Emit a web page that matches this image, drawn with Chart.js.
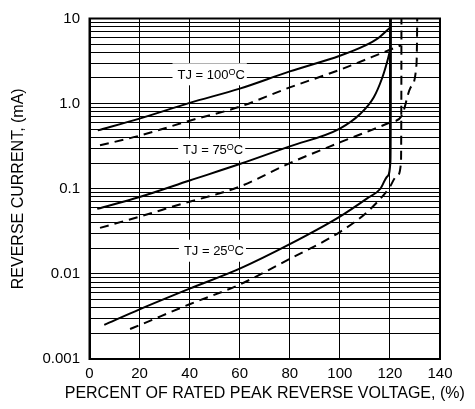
<!DOCTYPE html>
<html>
<head>
<meta charset="utf-8">
<script src="https://cdn.jsdelivr.net/npm/chart.js@4.4.1/dist/chart.umd.min.js"></script>
<style>
  html, body { margin: 0; padding: 0; background: #fff; }
  #wrap { width: 475px; height: 409px; position: relative; }
</style>
</head>
<body>
<div id="wrap"><canvas id="c"></canvas></div>
<script>
// ---- data ----
const xTickValues = [0, 20, 40, 60, 80, 100, 120, 140];
const yTickValues = [0.001, 0.01, 0.1, 1, 10];
const yTickLabels = ['0.001', '0.01', '0.1', '1.0', '10'];
const xTitle = 'PERCENT OF RATED PEAK REVERSE VOLTAGE, (%)';
const yTitle = 'REVERSE CURRENT, (mA)';

const s100X = [3.3, 20, 40, 60, 80, 100, 110, 115, 120.2];
const s100Y = [0.485, 0.667, 1.02, 1.5, 2.39, 3.65, 4.8, 5.8, 7.9];

const d100X = [4.2, 20, 40, 60, 80, 100, 120, 124.5];
const d100Y = [0.324, 0.42, 0.63, 0.92, 1.55, 2.5, 4.3, 4.85];

const s75X = [3.1, 20, 40, 60, 80, 100, 108.2, 113.5, 116.9, 118.9, 120.2];
const s75Y = [0.058, 0.08, 0.125, 0.195, 0.315, 0.51, 0.76, 1.18, 2.0, 3.1, 4.4];

const d75X = [4.2, 20, 35, 60, 80, 100, 120, 124.7, 128.2, 130.6, 130.8, 130.9];
const d75Y = [0.0347, 0.047, 0.064, 0.106, 0.2, 0.35, 0.6, 0.72, 1.54, 2.86, 5, 10];

const s25X = [5.9, 20, 40, 60, 80, 100, 110.9, 116.2, 119, 120.2, 120.35, 120.4];
const s25Y = [0.00252, 0.00383, 0.0067, 0.0115, 0.0223, 0.047, 0.077, 0.1, 0.14, 0.21, 1, 10];

const d25X = [16.2, 20, 40, 60, 80, 100, 110.8, 119.5, 122.9, 124.4, 124.55, 124.6];
const d25Y = [0.00225, 0.0025, 0.0044, 0.0075, 0.015, 0.031, 0.053, 0.1, 0.142, 0.2, 1, 10];

const curveLabels = [
  { main: 'TJ = 100', sup: 'O', tail: 'C', x: 48.6, y: 2.21 },
  { main: 'TJ = 75',  sup: 'O', tail: 'C', x: 49.4, y: 0.288 },
  { main: 'TJ = 25',  sup: 'O', tail: 'C', x: 49.7, y: 0.0187 }
];

const FONT = '"Liberation Sans", Arial, Helvetica, sans-serif';

function pts(xs, ys) { return xs.map((x, i) => ({ x: x, y: ys[i] })); }

// grid values: 1..9 per decade
const yGridValues = [];
for (let i = 0; i < yTickValues.length - 1; i++) {
  for (let k = 1; k <= 9; k++) yGridValues.push(+(yTickValues[i] * k).toPrecision(3));
}
yGridValues.push(yTickValues[yTickValues.length - 1]);

function ds(xs, ys, dashed) {
  return {
    data: pts(xs, ys),
    borderColor: '#000',
    borderWidth: 2,
    borderDash: dashed ? [9, 6] : [],
    pointRadius: 0,
    fill: false,
    cubicInterpolationMode: 'monotone'
  };
}

const labelPlugin = {
  id: 'curveLabels',
  beforeDatasetsDraw(chart) {
    const ctx = chart.ctx;
    const xs = chart.scales.x, ys = chart.scales.y;
    ctx.save();
    curveLabels.forEach(l => {
      const cx = xs.getPixelForValue(l.x);
      const cy = ys.getPixelForValue(l.y);
      ctx.font = '13px ' + FONT;
      const w1 = ctx.measureText(l.main).width;
      const w3 = ctx.measureText(l.tail).width;
      ctx.font = '9px ' + FONT;
      const w2 = ctx.measureText(l.sup).width;
      const total = w1 + w2 + w3;
      const left = cx - total / 2;
      ctx.fillStyle = '#fff';
      ctx.fillRect(left - 5, cy - 11, total + 7, 22);
      ctx.fillStyle = '#000';
      ctx.textBaseline = 'alphabetic';
      ctx.textAlign = 'left';
      const base = cy + 4.7;
      ctx.font = '13px ' + FONT;
      ctx.fillText(l.main, left, base);
      ctx.font = '9px ' + FONT;
      ctx.fillText(l.sup, left + w1, base - 4.5);
      ctx.font = '13px ' + FONT;
      ctx.fillText(l.tail, left + w1 + w2, base);
    });
    ctx.restore();
  },
  afterDraw(chart) {
    const a = chart.chartArea;
    const ctx = chart.ctx;
    ctx.save();
    ctx.strokeStyle = '#000';
    ctx.lineWidth = 2;
    ctx.strokeRect(a.left, a.top, a.right - a.left, a.bottom - a.top);
    // axis titles
    ctx.fillStyle = '#000';
    ctx.font = '16px ' + FONT;
    ctx.textAlign = 'center';
    ctx.textBaseline = 'middle';
    ctx.fillText(xTitle, (a.left + a.right) / 2, 394);
    ctx.translate(19, (a.top + a.bottom) / 2);
    ctx.rotate(-Math.PI / 2);
    ctx.fillText(yTitle, 0, 0);
    ctx.restore();
  }
};

new Chart(document.getElementById('c'), {
  type: 'line',
  data: {
    datasets: [
      ds(s100X, s100Y, false),
      ds(d100X, d100Y, true),
      ds(s75X, s75Y, false),
      ds(d75X, d75Y, true),
      ds(s25X, s25Y, false),
      ds(d25X, d25Y, true)
    ]
  },
  options: {
    responsive: true,
    maintainAspectRatio: false,
    animation: false,
    devicePixelRatio: 1,
    layout: { padding: { top: 11, right: 35, left: 0, bottom: 0 } },
    plugins: { legend: { display: false }, tooltip: { enabled: false } },
    scales: {
      x: {
        type: 'linear',
        min: 0, max: 140,
        afterBuildTicks: s => { s.ticks = xTickValues.map(v => ({ value: v })); },
        afterFit: s => { s.height = 50; },
        grid: { color: '#000', lineWidth: 1, drawTicks: false },
        border: { color: '#000', width: 2 },
        ticks: { color: '#000', padding: 6, autoSkip: false, maxRotation: 0,
                 font: { family: FONT, size: 15 } }
      },
      y: {
        type: 'logarithmic',
        min: 0.001, max: 10,
        afterBuildTicks: s => { s.ticks = yGridValues.map(v => ({ value: v })); },
        afterFit: s => { s.width = 89.5; },
        grid: { color: '#000', lineWidth: 1, drawTicks: false },
        border: { color: '#000', width: 2 },
        ticks: {
          color: '#000', padding: 9.5, autoSkip: false,
          font: { family: FONT, size: 15 },
          callback: v => {
            for (let i = 0; i < yTickValues.length; i++) {
              if (Math.abs(v - yTickValues[i]) < yTickValues[i] * 1e-6) return yTickLabels[i];
            }
            return '';
          }
        }
      }
    }
  },
  plugins: [labelPlugin]
});
</script>
</body>
</html>
